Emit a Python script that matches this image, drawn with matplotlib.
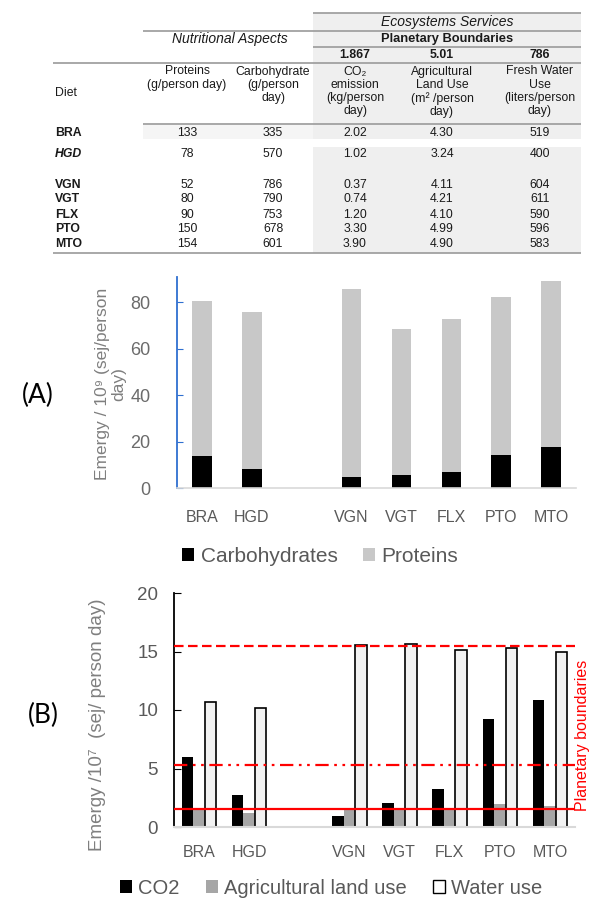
import matplotlib
matplotlib.use("Agg")
import matplotlib.pyplot as plt
from matplotlib.patches import Patch, Rectangle

plt.rcParams['font.family'] = ['Liberation Sans', 'DejaVu Sans']

# table values
diets = ["BRA", "HGD", "VGN", "VGT", "FLX", "PTO", "MTO"]
proteins_g = [133, 78, 52, 80, 90, 150, 154]
carbs_g = [335, 570, 786, 790, 753, 678, 601]
co2_kg = [2.02, 1.02, 0.37, 0.74, 1.20, 3.30, 3.90]
land_m2 = [4.30, 3.24, 4.11, 4.21, 4.10, 4.99, 4.90]
water_l = [519, 400, 604, 611, 590, 596, 583]
boundary_labels = ["1.867", "5.01", "786"]
col_headers = ["Proteins\n(g/person day)", "Carbohydrate\n(g/person\nday)",
               "CO\u2082\nemission\n(kg/person\nday)",
               "Agricultural\nLand Use\n(m\u00b2 /person\nday)",
               "Fresh Water\nUse\n(liters/person\nday)"]

# panel A, emergy / 10^9 (sej/person day)
emergy_carbs = [13.6, 8.3, 4.6, 5.5, 6.8, 14.3, 17.6]
emergy_proteins = [66.7, 67.5, 81.0, 62.9, 65.9, 68.0, 71.6]

# panel B, emergy / 10^7 (sej/person day)
emergy_co2 = [6.0, 2.75, 0.95, 2.05, 3.25, 9.25, 10.85]
emergy_land = [1.55, 1.2, 1.45, 1.45, 1.5, 1.95, 1.8]
emergy_water = [10.7, 10.2, 15.55, 15.6, 15.1, 15.3, 14.95]
boundary_levels = [1.5, 5.3, 15.5]

slots = [0, 1, 3, 4, 5, 6, 7]  # empty slot between HGD and VGN

W, H = 592, 900
fig = plt.figure(figsize=(W / 100, H / 100), dpi=100)

# ---- table drawn in pixel coordinates ----
tab = fig.add_axes([0, 0, 1, 1])
tab.set_xlim(0, W)
tab.set_ylim(H, 0)
tab.axis("off")

shade = "#efefef"
tab.add_patch(Rectangle((313, 13), 268, 126, color=shade, lw=0))
tab.add_patch(Rectangle((313, 147), 268, 106, color=shade, lw=0))
tab.add_patch(Rectangle((143, 125), 170, 14, color="#f5f5f5", lw=0))

lc = "#9a9a9a"
for y, x0 in [(13, 313), (31, 143), (47, 313), (63, 53), (124, 143), (253, 53)]:
    tab.plot([x0, 581], [y, y], color=lc, lw=1.2, solid_capstyle="butt")

tc = "#1a1a1a"
tab.text(447, 22, "Ecosystems Services", style="italic", fontsize=10,
         ha="center", va="center", color=tc)
tab.text(230, 39, "Nutritional Aspects", style="italic", fontsize=10,
         ha="center", va="center", color=tc)
tab.text(447, 39, "Planetary Boundaries", weight="bold", fontsize=9.3,
         ha="center", va="center", color=tc)

col_x = [187, 273, 355, 442, 540]
for x, lab in zip(col_x[2:], boundary_labels):
    tab.text(x, 55, lab, weight="bold", fontsize=8.8, ha="center",
             va="center", color=tc)
tab.text(55, 93, "Diet", fontsize=8.8, ha="left", va="center", color=tc)
for x, lab in zip(col_x, col_headers):
    tab.text(x, 65.5, lab, fontsize=8.8, ha="center", va="top",
             multialignment="center", linespacing=1.12, color=tc)

row_y = [133, 154, 185, 199.5, 214.5, 229.5, 244]
for i, d in enumerate(diets):
    y = row_y[i]
    tab.text(55, y, d, weight="bold", style="italic" if d == "HGD" else "normal",
             fontsize=8.8, ha="left", va="center", color=tc)
    vals = [f"{proteins_g[i]}", f"{carbs_g[i]}", f"{co2_kg[i]:.2f}",
            f"{land_m2[i]:.2f}", f"{water_l[i]}"]
    for x, v in zip(col_x, vals):
        tab.text(x, y, v, fontsize=8.8, ha="center", va="center", color=tc)

# ---- panel A ----
blue = "#2f6fd0"
axA = fig.add_axes([177 / W, 1 - 488 / H, (576 - 177) / W, (488 - 277) / H])
axA.bar(slots, emergy_carbs, width=0.39, color="black")
axA.bar(slots, emergy_proteins, bottom=emergy_carbs, width=0.39, color="#c8c8c8")
axA.set_xlim(-0.5, 7.5)
axA.set_ylim(0, 90.8)
axA.set_yticks([0, 20, 40, 60, 80])
axA.set_xticks(slots, diets)
for s in ["top", "right"]:
    axA.spines[s].set_visible(False)
axA.spines["left"].set_color(blue)
axA.spines["left"].set_linewidth(1.3)
axA.spines["bottom"].set_color("#d9d9d9")
axA.spines["bottom"].set_linewidth(1.2)
axA.tick_params(axis="y", direction="in", length=4, color=blue, labelsize=13,
                labelcolor="#6b6b6b", pad=19)
axA.tick_params(axis="x", length=0, labelsize=11.5, labelcolor="#595959", pad=16)

fig.text(111 / W, 1 - 384 / H, "Emergy / 10\u2079 (sej/person\nday)", rotation=90,
         fontsize=12.5, color="#7f7f7f", ha="center", va="center",
         multialignment="center", linespacing=1.1)
fig.text(38 / W, 1 - 395 / H, "(A)", fontsize=19, family=["Lato", "DejaVu Sans"],
         ha="center", va="center")
fig.legend(handles=[Patch(facecolor="black"), Patch(facecolor="#c8c8c8")],
           labels=["Carbohydrates", "Proteins"], loc="center",
           bbox_to_anchor=(320 / W, 1 - 556 / H), ncol=2, frameon=False,
           fontsize=15, handlelength=0.6, handleheight=0.6, handletextpad=0.3,
           columnspacing=1.2, labelcolor="#595959")

# ---- panel B ----
axB = fig.add_axes([174 / W, 1 - 827 / H, (575 - 174) / W, (827 - 593) / H])
w = 0.23
axB.bar([s - w for s in slots], emergy_co2, width=w, color="black", zorder=2)
axB.bar(slots, emergy_land, width=w, color="#a6a6a6", zorder=2)
axB.bar([s + w for s in slots], emergy_water, width=w, facecolor="#f2f2f2",
        edgecolor="black", linewidth=1.2, zorder=2)
red = "#ff0000"
axB.axhline(boundary_levels[2], color=red, lw=1.6, linestyle=(0, (4.3, 2)), zorder=3)
axB.axhline(boundary_levels[1], color=red, lw=1.6,
            linestyle=(0, (6, 2.5, 1.2, 2.5, 1.2, 2.5)), zorder=3)
axB.axhline(boundary_levels[0], color=red, lw=1.6, zorder=3)
axB.set_xlim(-0.5, 7.5)
axB.set_ylim(0, 20)
axB.set_yticks([0, 5, 10, 15, 20])
axB.set_xticks(slots, diets)
for s in ["top", "right"]:
    axB.spines[s].set_visible(False)
axB.spines["left"].set_linewidth(1.3)
axB.spines["bottom"].set_color("#d9d9d9")
axB.spines["bottom"].set_linewidth(1.5)
axB.tick_params(axis="y", direction="in", length=5, color="black", labelsize=13.5,
                labelcolor="#595959", pad=11.5)
axB.tick_params(axis="x", length=0, labelsize=11.5, labelcolor="#595959", pad=13)

fig.text(97 / W, 1 - 725 / H, "Emergy /10\u2077  (sej/ person day)", rotation=90,
         fontsize=13.5, color="#7f7f7f", ha="center", va="center")
fig.text(583 / W, 1 - 735 / H, "Planetary boundaries", rotation=90, fontsize=11.5,
         color=red, ha="center", va="center")
fig.text(43 / W, 1 - 715 / H, "(B)", fontsize=19, family=["Lato", "DejaVu Sans"],
         ha="center", va="center")
fig.legend(handles=[Patch(facecolor="black"), Patch(facecolor="#a6a6a6"),
                    Patch(facecolor="white", edgecolor="black")],
           labels=["CO2", "Agricultural land use", "Water use"], loc="center",
           bbox_to_anchor=(331 / W, 1 - 888 / H), ncol=3, frameon=False,
           fontsize=14.5, handlelength=0.6, handleheight=0.6, handletextpad=0.3,
           columnspacing=1.3, labelcolor="#595959")

fig.savefig("out.png", dpi=100)
